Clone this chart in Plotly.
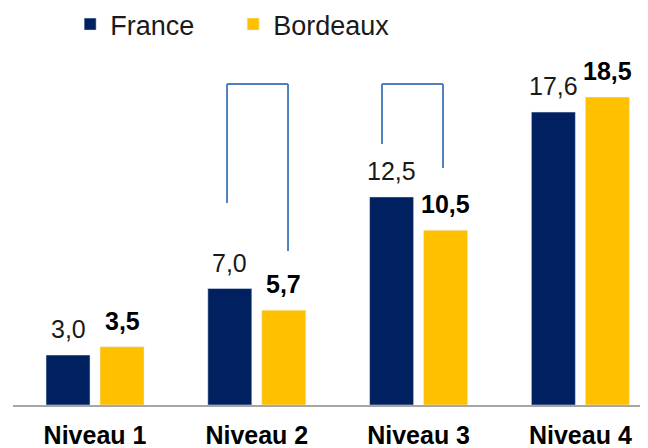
import plotly.graph_objects as go

categories = ["Niveau 1", "Niveau 2", "Niveau 3", "Niveau 4"]
france = [3.0, 7.0, 12.5, 17.6]
bordeaux = [3.5, 5.7, 10.5, 18.5]

navy = "#002060"
gold = "#FFC000"
bracket_blue = "#4F81BD"
font_family = "Liberation Sans, Arial, sans-serif"


def fr(v):
    return f"{v:.1f}".replace(".", ",")


fig = go.Figure()
fig.add_trace(go.Bar(x=categories, y=france, name="France", marker_color=navy))
fig.add_trace(go.Bar(x=categories, y=bordeaux, name="Bordeaux", marker_color=gold))

# value labels above each bar (France regular, Bordeaux bold)
for i, cat in enumerate(categories):
    fig.add_annotation(x=cat, y=france[i], text=fr(france[i]), showarrow=False,
                       xshift=-27, yshift=10, yanchor="bottom",
                       font=dict(size=25, color="#1a1a1a", family=font_family))
    fig.add_annotation(x=cat, y=bordeaux[i], text="<b>" + fr(bordeaux[i]) + "</b>",
                       showarrow=False, xshift=27, yshift=10, yanchor="bottom",
                       font=dict(size=25, color="#000000", family=font_family))

# hand-drawn style brackets above Niveau 2 and Niveau 3
brackets = [
    (0.816, 1.193, 19.29, 12.14, 9.25),
    (1.774, 2.151, 19.29, 15.68, 14.24),
]
for left, right, top, lb, rb in brackets:
    line = dict(color=bracket_blue, width=2)
    fig.add_shape(type="line", xref="x", yref="y", x0=left, x1=left, y0=lb, y1=top, line=line)
    fig.add_shape(type="line", xref="x", yref="y", x0=left, x1=right, y0=top, y1=top, line=line)
    fig.add_shape(type="line", xref="x", yref="y", x0=right, x1=right, y0=top, y1=rb, line=line)

# the page adds an 8px body margin, so the figure is 640x440 placed at (8, 8)
fig.update_layout(
    width=640, height=440,
    margin=dict(l=5, r=0, t=47, b=43, autoexpand=False),
    paper_bgcolor="white", plot_bgcolor="white",
    barmode="group", bargap=0.3325, bargroupgap=0.185,
    font=dict(family=font_family, color="#000000"),
    showlegend=True,
    legend=dict(orientation="h", x=0.09, xanchor="left", y=1.087, yanchor="middle",
                font=dict(size=27, color="#1a1a1a"), entrywidth=118, traceorder="normal"),
)
fig.update_xaxes(range=[-0.507, 3.418], showline=True, linecolor="#A6A6A6", linewidth=1.5,
                 ticks="", ticklabelstandoff=7,
                 tickfont=dict(size=25, family=font_family, color="#000000"),
                 tickprefix="<b>", ticksuffix="</b>", showgrid=False, zeroline=False)
fig.update_yaxes(range=[0, 21.03], visible=False, showgrid=False, zeroline=False)

fig.write_html("out.html")
